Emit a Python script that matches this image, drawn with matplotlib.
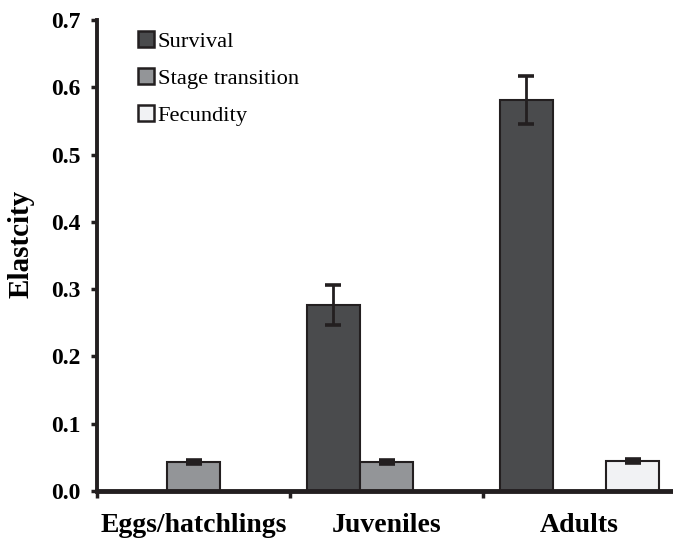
import matplotlib
matplotlib.use("Agg")
import matplotlib.pyplot as plt
from matplotlib.patches import Patch
import numpy as np

categories = ["Eggs/hatchlings", "Juveniles", "Adults"]
series_names = ["Survival", "Stage transition", "Fecundity"]
survival = [None, 0.276, 0.581]
survival_err = [None, 0.030, 0.036]
transition = [0.0435, 0.0435, None]
transition_err = [0.003, 0.003, None]
fecundity = [None, None, 0.0445]
fecundity_err = [None, None, 0.003]
yticks = [0.0, 0.1, 0.2, 0.3, 0.4, 0.5, 0.6, 0.7]

colors = ["#4a4b4d", "#939598", "#f1f2f4"]
edge = "#231f20"

plt.rcParams['font.family'] = ['Liberation Serif', 'DejaVu Serif']

fig = plt.figure(figsize=(6.73, 5.38), dpi=100)
ax = fig.add_axes([97/673, 1-491/538, 579/673, (491-20)/538])

width = 0.275
offsets = [-width, 0.0, width]
series = [(survival, survival_err), (transition, transition_err), (fecundity, fecundity_err)]
for (vals, errs), off, col in zip(series, offsets, colors):
    xs = [i + off for i, v in enumerate(vals) if v is not None]
    hs = [v for v in vals if v is not None]
    es = [e for v, e in zip(vals, errs) if v is not None]
    ax.bar(xs, hs, width=width, color=col, edgecolor=edge, linewidth=1.5, zorder=2)
    ax.errorbar(xs, hs, yerr=es, fmt='none', ecolor=edge, elinewidth=2.0,
                capsize=6.0, capthick=2.6, zorder=3)

ax.set_xlim(-0.5, 2.5)
ax.set_ylim(0, 0.7)
ax.set_yticks(yticks)
ax.set_yticklabels([f"{t:.1f}" for t in yticks], fontsize=17, fontweight='bold')
ax.set_xticks(range(len(categories)))
ax.set_xticklabels(categories, fontsize=20, fontweight='bold')
ax.set_xticks([-0.5, 0.5, 1.5], minor=True)
ax.tick_params(axis='x', which='major', length=0, pad=16)
ax.tick_params(axis='x', which='minor', length=5, width=2.5, direction='out', color=edge)
ax.tick_params(axis='y', which='major', length=4, width=2.5, direction='out', pad=8, color=edge)

for s in ['top', 'right']:
    ax.spines[s].set_visible(False)
ax.spines['left'].set_linewidth(2.8)
ax.spines['bottom'].set_linewidth(3.5)
ax.spines['left'].set_color(edge)
ax.spines['bottom'].set_color(edge)
ax.spines['bottom'].set_zorder(4)

fig.text(21/673, 1-244/538, "Elastcity", rotation=90, ha='center', va='center',
         fontsize=21, fontweight='bold')

handles = [Patch(facecolor=c, edgecolor=edge, linewidth=1.8) for c in colors]
ax.legend(handles, series_names, loc='upper left', bbox_to_anchor=(138/673, 1-31/538),
          bbox_transform=fig.transFigure, frameon=False, fontsize=16.2,
          handlelength=0.72, handleheight=0.72, handletextpad=0.15,
          labelspacing=0.72, borderpad=0, borderaxespad=0)

fig.savefig("out.png", dpi=100)
